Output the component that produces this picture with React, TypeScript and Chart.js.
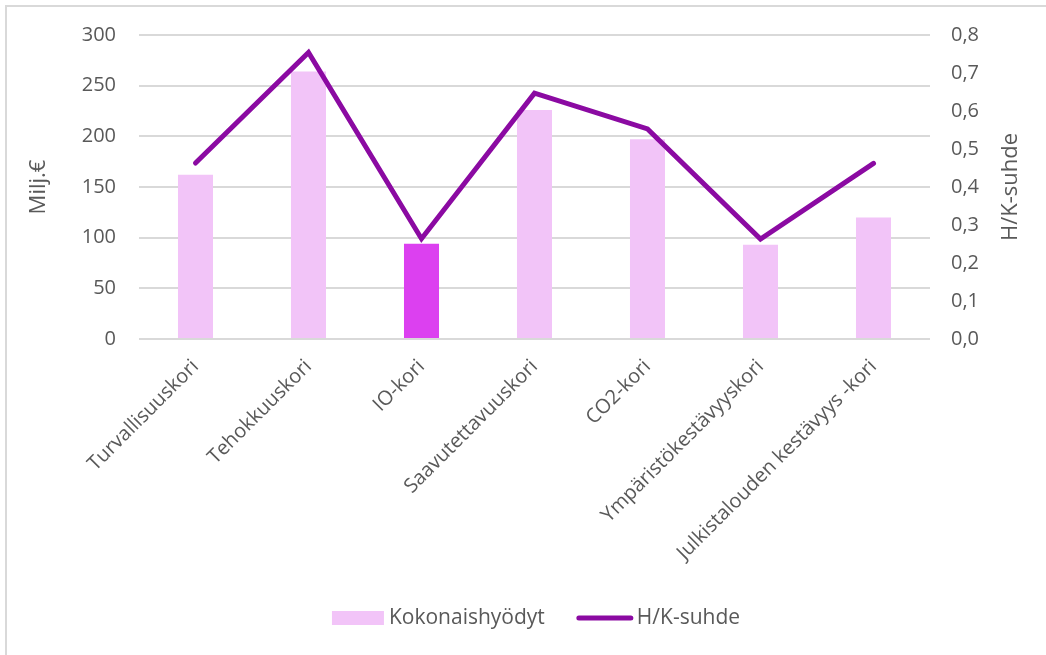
import React, { useEffect, useRef } from "react";
import { Chart, registerables } from "chart.js";

Chart.register(...registerables);

const categories = [
  "Turvallisuuskori",
  "Tehokkuuskori",
  "IO-kori",
  "Saavutettavuuskori",
  "CO2-kori",
  "Ympäristökestävyyskori",
  "Julkistalouden kestävyys -kori",
];
const kokonaishyodyt = [162, 264, 94, 226, 197, 93, 120];
const hkSuhde = [0.463, 0.754, 0.264, 0.647, 0.553, 0.263, 0.462];
const leftTicks = [0, 50, 100, 150, 200, 250, 300];
const rightTicks = [0, 0.1, 0.2, 0.3, 0.4, 0.5, 0.6, 0.7, 0.8];

const BAR_COLOR = "#F2C4F8";
const BAR_HILITE = "#DC40F0";
const LINE_COLOR = "#8B0AA2";
const TEXT = "#595959";
const GRID = "#D9D9D9";
const FONT = "'Open Sans', sans-serif";

export default function App() {
  const ref = useRef<HTMLCanvasElement | null>(null);
  useEffect(() => {
    if (!ref.current) return;
    const overlay = {
      id: "overlay",
      afterDraw(chart: any) {
        const ctx = chart.ctx;
        const ca = chart.chartArea;
        ctx.save();
        // frame
        ctx.strokeStyle = GRID;
        ctx.lineWidth = 2;
        ctx.beginPath();
        ctx.moveTo(6, 700);
        ctx.lineTo(6, 6);
        ctx.lineTo(1100, 6);
        ctx.stroke();
        // axis titles
        ctx.fillStyle = TEXT;
        ctx.font = `22px ${FONT}`;
        ctx.textAlign = "center";
        ctx.textBaseline = "middle";
        const cy = (ca.top + ca.bottom) / 2;
        ctx.save();
        ctx.translate(39, cy);
        ctx.rotate(-Math.PI / 2);
        ctx.fillText("Milj.€", 0, 0);
        ctx.restore();
        ctx.save();
        ctx.translate(1011, cy);
        ctx.rotate(-Math.PI / 2);
        ctx.fillText("H/K-suhde", 0, 0);
        ctx.restore();
        // legend
        ctx.font = `21px ${FONT}`;
        ctx.textAlign = "left";
        const ds = chart.data.datasets;
        const t1 = ds[0].label as string;
        const t2 = ds[1].label as string;
        const w1 = ctx.measureText(t1).width;
        const w2 = ctx.measureText(t2).width;
        const total = 52 + 5 + w1 + 32 + 56 + 4 + w2;
        let x = 536 - total / 2;
        const ly = 618;
        ctx.fillStyle = BAR_COLOR;
        ctx.fillRect(x, ly - 7, 52, 14);
        x += 57;
        ctx.fillStyle = TEXT;
        ctx.fillText(t1, x, ly);
        x += w1 + 32;
        ctx.strokeStyle = LINE_COLOR;
        ctx.lineWidth = 5;
        ctx.lineCap = "round";
        ctx.beginPath();
        ctx.moveTo(x + 2, ly);
        ctx.lineTo(x + 54, ly);
        ctx.stroke();
        x += 60;
        ctx.fillText(t2, x, ly);
        ctx.restore();
      },
    };
    const chart = new Chart(ref.current, {
      type: "bar",
      data: {
        labels: categories,
        datasets: [
          {
            type: "bar",
            label: "Kokonaishyödyt",
            data: kokonaishyodyt,
            backgroundColor: kokonaishyodyt.map((_, i) => (i === 2 ? BAR_HILITE : BAR_COLOR)),
            categoryPercentage: 1,
            barPercentage: 0.31,
            yAxisID: "y",
            order: 2,
          },
          {
            type: "line",
            label: "H/K-suhde",
            data: hkSuhde,
            borderColor: LINE_COLOR,
            backgroundColor: LINE_COLOR,
            borderWidth: 5,
            borderCapStyle: "round",
            borderJoinStyle: "miter",
            pointRadius: 0,
            pointHoverRadius: 0,
            tension: 0,
            yAxisID: "y1",
            order: 1,
          },
        ],
      },
      options: {
        animation: false,
        responsive: false,
        layout: { padding: { left: 0, right: 0, top: 30, bottom: 0 } },
        plugins: { legend: { display: false }, tooltip: { enabled: false } },
        scales: {
          x: {
            grid: { display: false, drawTicks: false },
            border: { display: false },
            ticks: {
              color: TEXT,
              font: { family: FONT, size: 20 },
              maxRotation: 45,
              minRotation: 45,
              padding: 16,
              autoSkip: false,
            },
            afterFit: (s: any) => {
              s.height = 655 - 339;
            },
          },
          y: {
            position: "left",
            min: 0,
            max: 300,
            afterBuildTicks: (s: any) => {
              s.ticks = leftTicks.map((v) => ({ value: v }));
            },
            grid: { color: GRID, lineWidth: 2, drawTicks: false },
            border: { display: false },
            ticks: {
              color: TEXT,
              font: { family: FONT, size: 20 },
              padding: 23,
            },
            afterFit: (s: any) => {
              s.width = 139;
            },
          },
          y1: {
            position: "right",
            min: 0,
            max: 0.8,
            afterBuildTicks: (s: any) => {
              s.ticks = rightTicks.map((v) => ({ value: v }));
            },
            grid: { display: false, drawTicks: false },
            border: { display: false },
            ticks: {
              color: TEXT,
              font: { family: FONT, size: 20 },
              padding: 21,
              callback: (v: any) => Number(v).toFixed(1).replace(".", ","),
            },
            afterFit: (s: any) => {
              s.width = 1046 - 930;
            },
          },
        },
      },
      plugins: [overlay],
    } as any);
    return () => chart.destroy();
  }, []);
  return (
    <div style={{ position: "absolute", left: 0, top: 0, width: 1046, height: 655, background: "#fff" }}>
      <canvas ref={ref} width={1046} height={655} style={{ display: "block" }} />
    </div>
  );
}
